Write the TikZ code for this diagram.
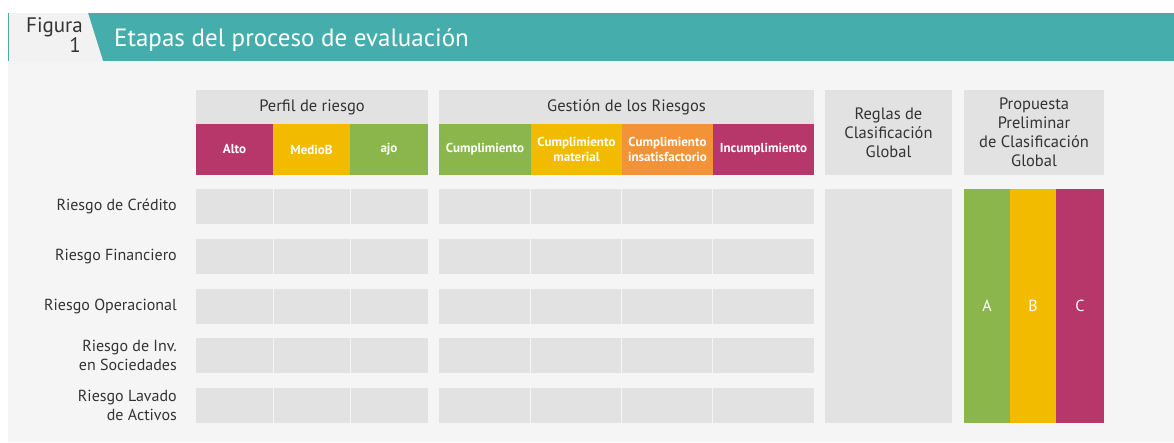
\documentclass[tikz,border=0pt]{standalone}
\usepackage{fontspec}
\setmainfont{PT Sans}
\definecolor{teal1}{HTML}{45AEAC}
\definecolor{bgc}{HTML}{F5F5F5}
\definecolor{cellc}{HTML}{E2E2E2}
\definecolor{tabc}{HTML}{F2F2F2}
\definecolor{mag}{HTML}{B8376B}
\definecolor{yel}{HTML}{F3BB00}
\definecolor{grn}{HTML}{8BB64B}
\definecolor{orn}{HTML}{F39237}
\definecolor{txt}{HTML}{333333}
\tikzset{
  blk/.style={inner sep=0pt, outer sep=0pt, anchor=north west},
  cell/.style={blk, fill=cellc},
  hdr/.style={blk, fill=cellc, text=txt, font=\fontsize{16.5}{19}\selectfont, align=center},
  col/.style={blk, fill=#1, text=white, font=\fontsize{13}{15}\selectfont\bfseries, align=center},
  rowlab/.style={anchor=east, text=txt, font=\fontsize{16}{19}\selectfont, align=right, inner sep=0pt},
}
\begin{document}
\begin{tikzpicture}[x=1pt,y=-1pt]
\useasboundingbox (0,0) rectangle (1174,442);
\fill[white] (0,0) rectangle (1174,442);
\fill[bgc] (8,61) rectangle (1174,442);
\fill[teal1] (8,13) rectangle (1174,61);
\fill[tabc] (8,13) -- (88,13) -- (103,61) -- (8,61) -- cycle;
\draw[teal1, line width=1pt] (8.5,13) -- (8.5,61);
\node[anchor=base east, inner sep=0pt, text=txt, font=\fontsize{21}{21}\selectfont] (fig) at (83,32) {Figura};
\node[anchor=base east, inner sep=0pt, text=txt, font=\fontsize{21}{21}\selectfont] (fignum) at (81,52) {1};
\node[anchor=base west, inner sep=0pt, text=white, font=\fontsize{25}{25}\selectfont] (title) at (114,46) {Etapas del proceso de evaluación};
% headers
\node[hdr, minimum width=232pt, minimum height=34pt] (hperf) at (196,90) {Perfil de riesgo};
\node[hdr, minimum width=375pt, minimum height=34pt] (hgest) at (439,90) {Gestión de los Riesgos};
\node[hdr, minimum width=127pt, minimum height=85pt] (hreg) at (825,90) {Reglas de\\Clasificación\\Global};
\node[hdr, minimum width=140pt, minimum height=85pt] (hprop) at (964,90) {Propuesta\\Preliminar\\de Clasificación\\Global};
% colored subheaders
\node[col=mag, minimum width=77pt, minimum height=51pt] (alto) at (196,124) {Alto};
\node[col=yel, minimum width=77pt, minimum height=51pt] (medio) at (273,124) {MedioB};
\node[col=grn, minimum width=78pt, minimum height=51pt] (bajo) at (350,124) {ajo};
\node[col=grn, minimum width=92pt, minimum height=51pt] (cump) at (439,124) {Cumplimiento};
\node[col=yel, minimum width=91pt, minimum height=51pt] (cmat) at (531,124) {Cumplimiento\\material};
\node[col=orn, minimum width=91pt, minimum height=51pt] (cins) at (622,124) {Cumplimiento\\insatisfactorio};
\node[col=mag, minimum width=101pt, minimum height=51pt] (inc) at (713,124) {Incumplimiento};
% rows
\foreach \y/\i in {189/1,239/2,289/3,338/4,388/5}{
  \node[cell, minimum width=77pt, minimum height=35pt] (p1r\i) at (196,\y) {};
  \node[cell, minimum width=76pt, minimum height=35pt] (p2r\i) at (274,\y) {};
  \node[cell, minimum width=77pt, minimum height=35pt] (p3r\i) at (351,\y) {};
  \node[cell, minimum width=91pt, minimum height=35pt] (g1r\i) at (439,\y) {};
  \node[cell, minimum width=90pt, minimum height=35pt] (g2r\i) at (531,\y) {};
  \node[cell, minimum width=90pt, minimum height=35pt] (g3r\i) at (622,\y) {};
  \node[cell, minimum width=101pt, minimum height=35pt] (g4r\i) at (713,\y) {};
}
\node[rowlab] (l1) at (177,206.5) {Riesgo de Crédito};
\node[rowlab] (l2) at (177,256.5) {Riesgo Financiero};
\node[rowlab] (l3) at (177,306.5) {Riesgo Operacional};
\node[rowlab] (l4) at (177,355.5) {Riesgo de Inv.\\en Sociedades};
\node[rowlab] (l5) at (177,405.5) {Riesgo Lavado\\de Activos};
% reglas big cell
\node[cell, minimum width=127pt, minimum height=234pt] (reg) at (825,189) {};
% ABC
\node[col=grn, minimum width=46pt, minimum height=234pt, font=\fontsize{16}{18}\selectfont] (ca) at (964,189) {A};
\node[col=yel, minimum width=46pt, minimum height=234pt, font=\fontsize{16}{18}\selectfont] (cb) at (1010,189) {B};
\node[col=mag, minimum width=48pt, minimum height=234pt, font=\fontsize{16}{18}\selectfont] (cc) at (1056,189) {C};
\end{tikzpicture}
\end{document}
